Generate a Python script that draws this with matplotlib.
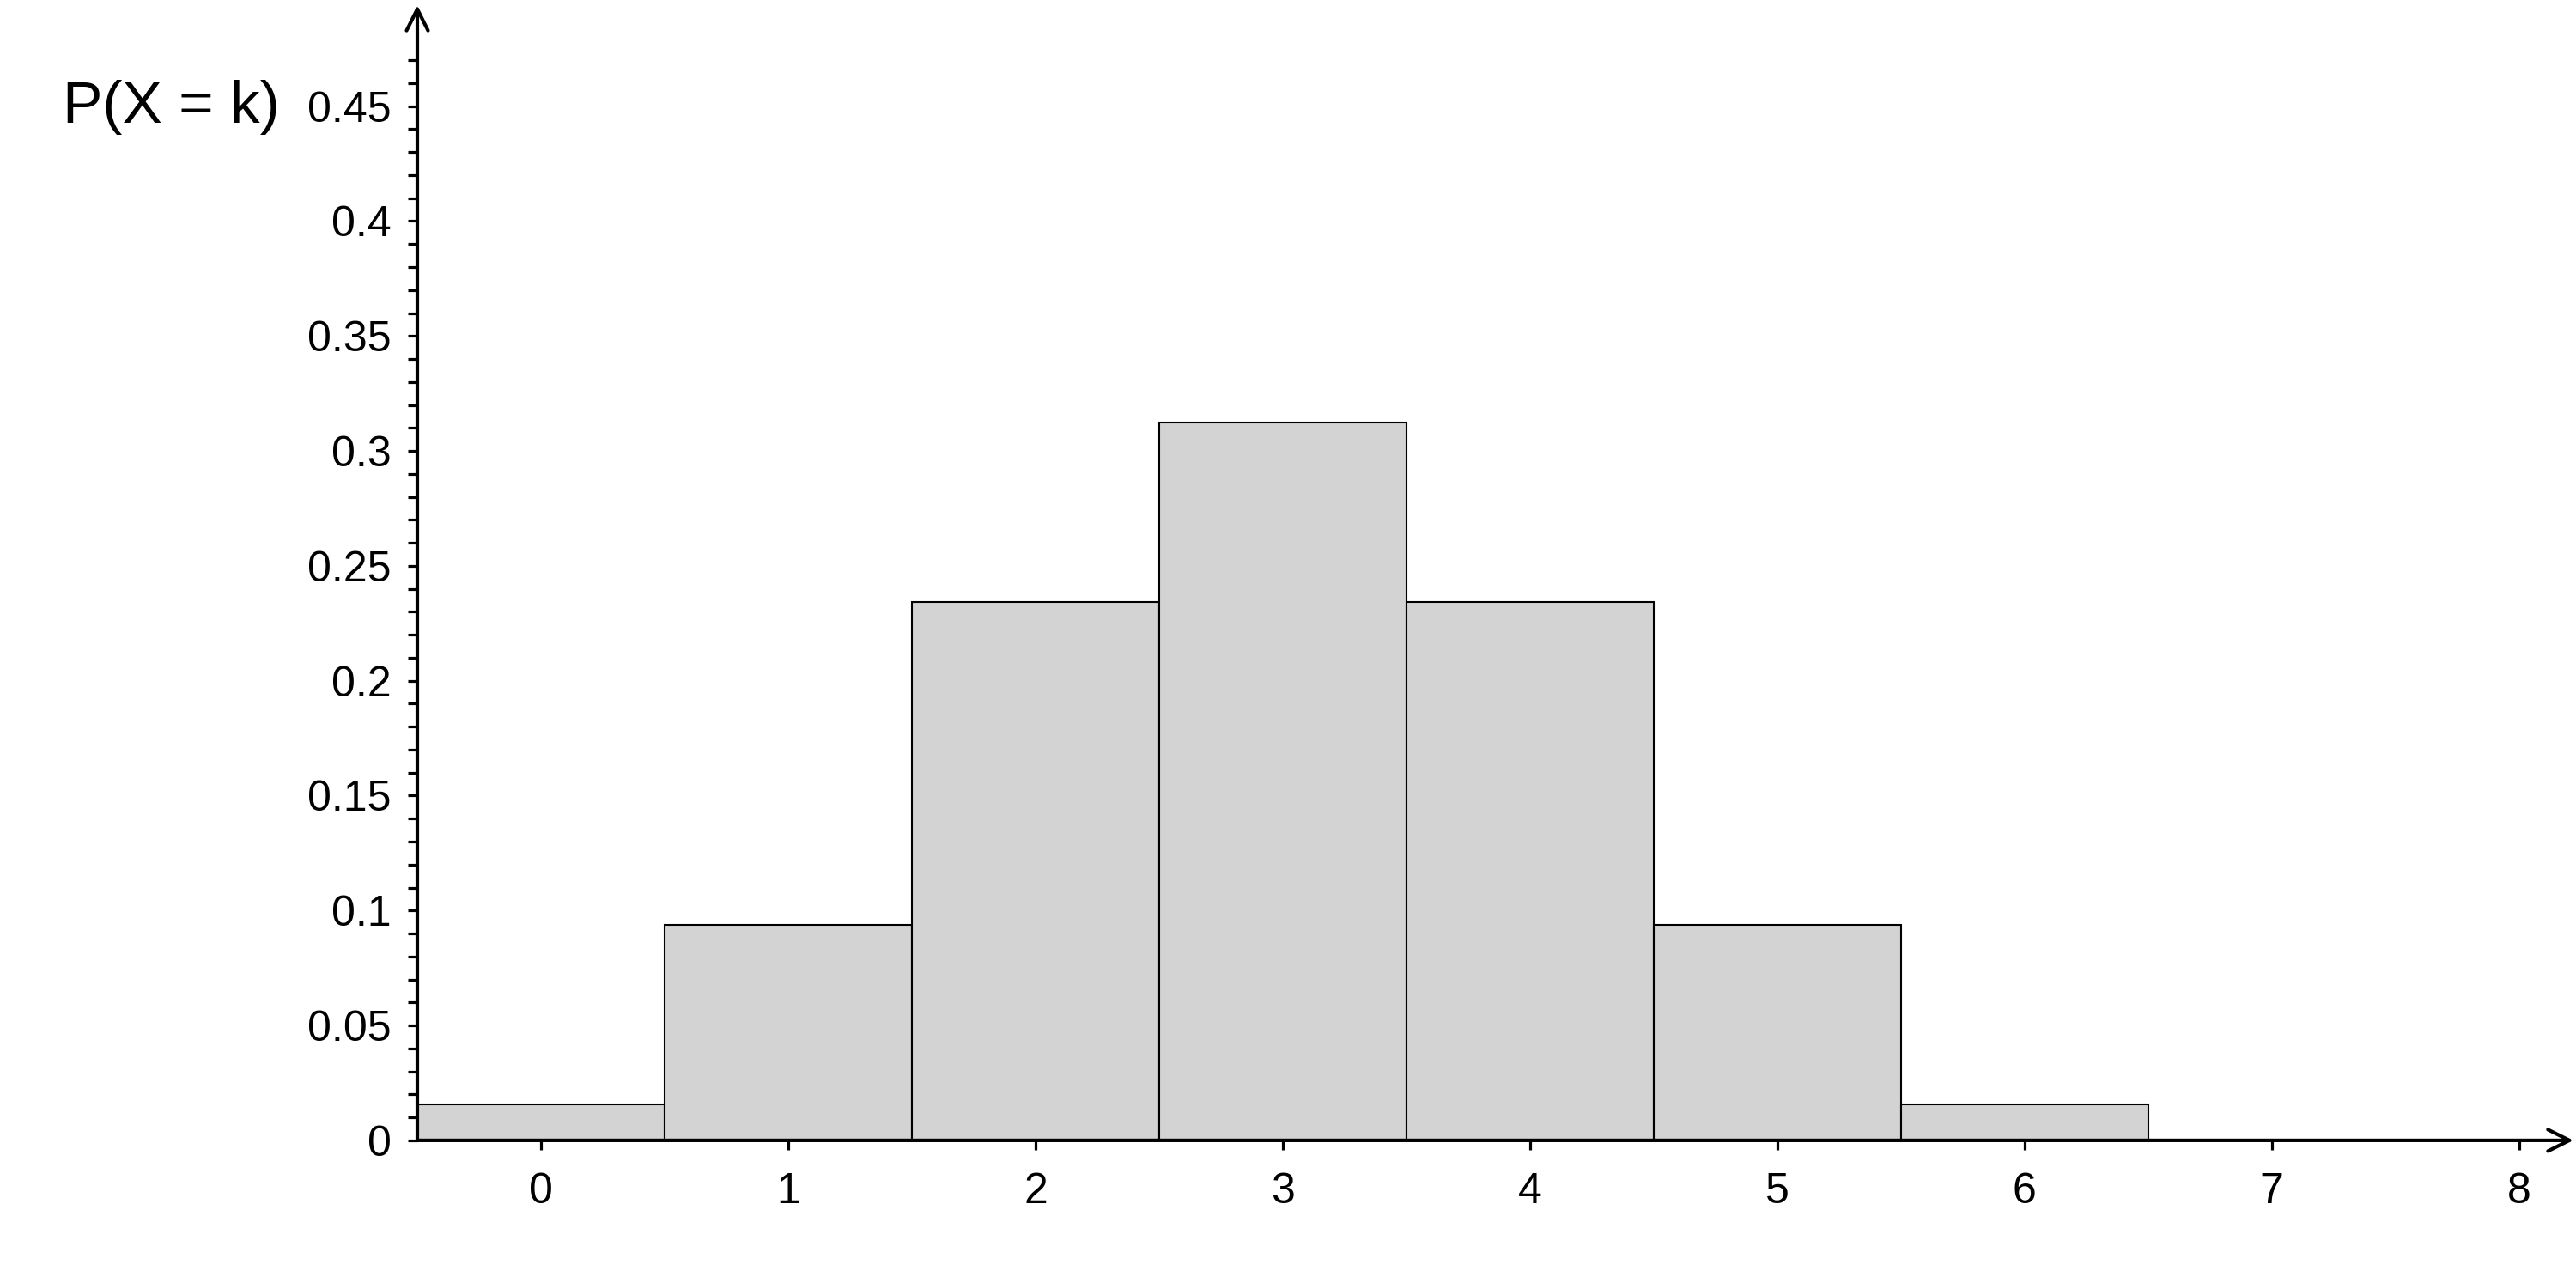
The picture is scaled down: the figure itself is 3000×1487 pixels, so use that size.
import matplotlib
matplotlib.use("Agg")
import matplotlib.pyplot as plt
import numpy as np

k_values = [0, 1, 2, 3, 4, 5, 6]
probabilities = [0.015625, 0.09375, 0.234375, 0.3125, 0.234375, 0.09375, 0.015625]
x_ticks = [0, 1, 2, 3, 4, 5, 6, 7, 8]
y_ticks = [0, 0.05, 0.1, 0.15, 0.2, 0.25, 0.3, 0.35, 0.4, 0.45]
y_ticklabels = ["0", "0.05", "0.1", "0.15", "0.2", "0.25", "0.3", "0.35", "0.4", "0.45"]
y_label = "P(X = k)"

plt.rcParams['font.family'] = ['Liberation Sans', 'DejaVu Sans']

fig = plt.figure(figsize=(30, 14.87), dpi=100)
ax = fig.add_axes([0.162, 0.107, 0.837, 0.889])
ax.set_xlim(-0.5, 8.22)
ax.set_ylim(0, 0.494)

ax.bar(k_values, probabilities, width=1.0, color='#d3d3d3', edgecolor='black', linewidth=1.5, zorder=2)

for s in ax.spines.values():
    s.set_visible(False)

arrow_kw = dict(arrowstyle='->,head_length=0.9,head_width=0.45', lw=3, color='black',
                shrinkA=0, shrinkB=0, mutation_scale=20)
ax.annotate('', xy=(8.22, 0), xytext=(-0.5, 0), xycoords='data', arrowprops=arrow_kw,
            annotation_clip=False, zorder=3)
ax.annotate('', xy=(-0.5, 0.494), xytext=(-0.5, 0), xycoords='data', arrowprops=arrow_kw,
            annotation_clip=False, zorder=3)

ax.set_xticks(x_ticks)
ax.set_xticklabels([str(v) for v in x_ticks])
ax.set_yticks(y_ticks)
ax.set_yticklabels(y_ticklabels)
ax.set_yticks(np.arange(0, 0.475, 0.01), minor=True)

ax.tick_params(axis='both', which='both', direction='out', length=8, width=2.3, labelsize=36)
ax.tick_params(axis='x', pad=19)
ax.tick_params(axis='y', pad=14)
ax.tick_params(axis='y', which='minor', length=8, width=2.3)

fig.text(73 / 3000, 1 - 125 / 1487, y_label, fontsize=50, va='center', ha='left')

fig.savefig('out.png', dpi=100, facecolor='white')
